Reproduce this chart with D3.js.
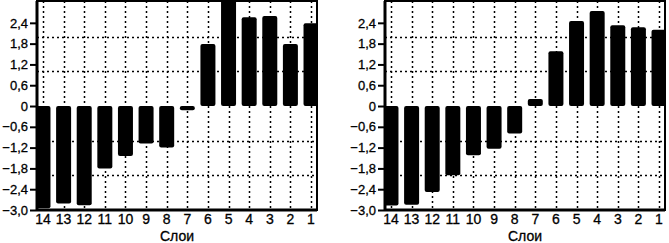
<!DOCTYPE html>
<html>
<head>
<meta charset="utf-8">
<script src="https://cdn.jsdelivr.net/npm/d3@7"></script>
<style>
  body { margin: 0; background: #fff; }
  svg { display: block; }
  text { font-family: "Liberation Sans", Arial, sans-serif; }
</style>
</head>
<body>
<script>
// Categories (layers) and values for both panels
const layers = ['14', '13', '12', '11', '10', '9', '8', '7', '6', '5', '4', '3', '2', '1']
const leftValues = [-2.95, -2.81, -2.86, -1.80, -1.44, -1.08, -1.20, -0.12, 1.79, 3.10, 2.56, 2.60, 1.79, 2.39]
const rightValues = [-2.87, -2.85, -2.48, -2.00, -1.42, -1.23, -0.79, 0.20, 1.58, 2.45, 2.74, 2.33, 2.27, 2.20]
const yTicks = [-3.0, -2.4, -1.8, -1.2, -0.6, 0, 0.6, 1.2, 1.8, 2.4]
const yGrid = [-2, -1, 1, 2]
const xTitle = 'Слои'

const W = 669
const H = 243

const svg = d3.select('body').append('svg')
  .attr('width', W)
  .attr('height', H)

const locale = d3.formatLocale({ decimal: ',', thousands: ' ', grouping: [3], currency: ['', ''], minus: '\u2212' })
const fmt = locale.format('.1f')
const tickFmt = d => d === 0 ? '0' : fmt(d)

const drawPanel = (values, left, right, id) => {
  const top = 1
  const bottom = 210

  const x = d3.scalePoint().domain(layers).range([left, right]).padding(0.29)
  const y = d3.scaleLinear().domain([-3, 3.03]).range([bottom, top])

  const g = svg.append('g')

  g.append('clipPath').attr('id', id)
    .append('rect')
    .attr('x', left).attr('y', top)
    .attr('width', right - left).attr('height', bottom - top)

  // dotted grid
  const grid = g.append('g')
    .attr('stroke', '#000')
    .attr('stroke-width', 1.5)
    .attr('stroke-dasharray', '2,3')
  grid.selectAll('.hg').data(yGrid).join('line')
    .attr('x1', left).attr('x2', right)
    .attr('y1', d => Math.round(y(d)) + 0.5).attr('y2', d => Math.round(y(d)) + 0.5)
  grid.selectAll('.vg').data(layers).join('line')
    .attr('x1', d => Math.round(x(d)) + 0.5).attr('x2', d => Math.round(x(d)) + 0.5)
    .attr('y1', top).attr('y2', bottom)

  // bars
  const bw = 15
  g.append('g').attr('clip-path', `url(#${id})`)
    .selectAll('rect').data(values).join('rect')
    .attr('x', (d, i) => x(layers[i]) - bw / 2)
    .attr('width', bw)
    .attr('y', d => y(Math.max(0, d)))
    .attr('height', d => Math.abs(y(d) - y(0)))
    .attr('rx', 2)
    .attr('fill', '#000')

  // frame
  g.append('rect')
    .attr('x', left).attr('y', top)
    .attr('width', right - left).attr('height', bottom - top)
    .attr('fill', 'none').attr('stroke', '#000').attr('stroke-width', 2)
  g.append('line')
    .attr('x1', left).attr('x2', left).attr('y1', top).attr('y2', bottom + 1)
    .attr('stroke', '#000').attr('stroke-width', 3)
  g.append('line')
    .attr('x1', left).attr('x2', right).attr('y1', bottom).attr('y2', bottom)
    .attr('stroke', '#000').attr('stroke-width', 3)

  // y axis
  const yAxis = g.append('g')
    .attr('transform', `translate(${left},0)`)
    .call(d3.axisLeft(y).tickValues(yTicks).tickFormat(tickFmt).tickSize(7).tickPadding(2))
  yAxis.select('.domain').remove()
  yAxis.selectAll('line').attr('stroke-width', 2)
  yAxis.selectAll('text').attr('font-size', 13).attr('fill', '#000')
    .attr('font-family', '"Liberation Sans", Arial, sans-serif')
    .attr('stroke', '#000').attr('stroke-width', 0.3)

  // x labels
  g.append('g').selectAll('text').data(layers).join('text')
    .attr('x', d => x(d))
    .attr('y', 224)
    .attr('text-anchor', 'middle')
    .attr('font-size', 14)
    .attr('stroke', '#000').attr('stroke-width', 0.3)
    .text(d => d)

  g.append('text')
    .attr('x', (left + right) / 2)
    .attr('y', 241)
    .attr('text-anchor', 'middle')
    .attr('font-size', 14)
    .attr('stroke', '#000').attr('stroke-width', 0.3)
    .text(xTitle)
}

drawPanel(leftValues, 37, 317, 'clipL')
drawPanel(rightValues, 385, 665, 'clipR')
</script>
</body>
</html>
